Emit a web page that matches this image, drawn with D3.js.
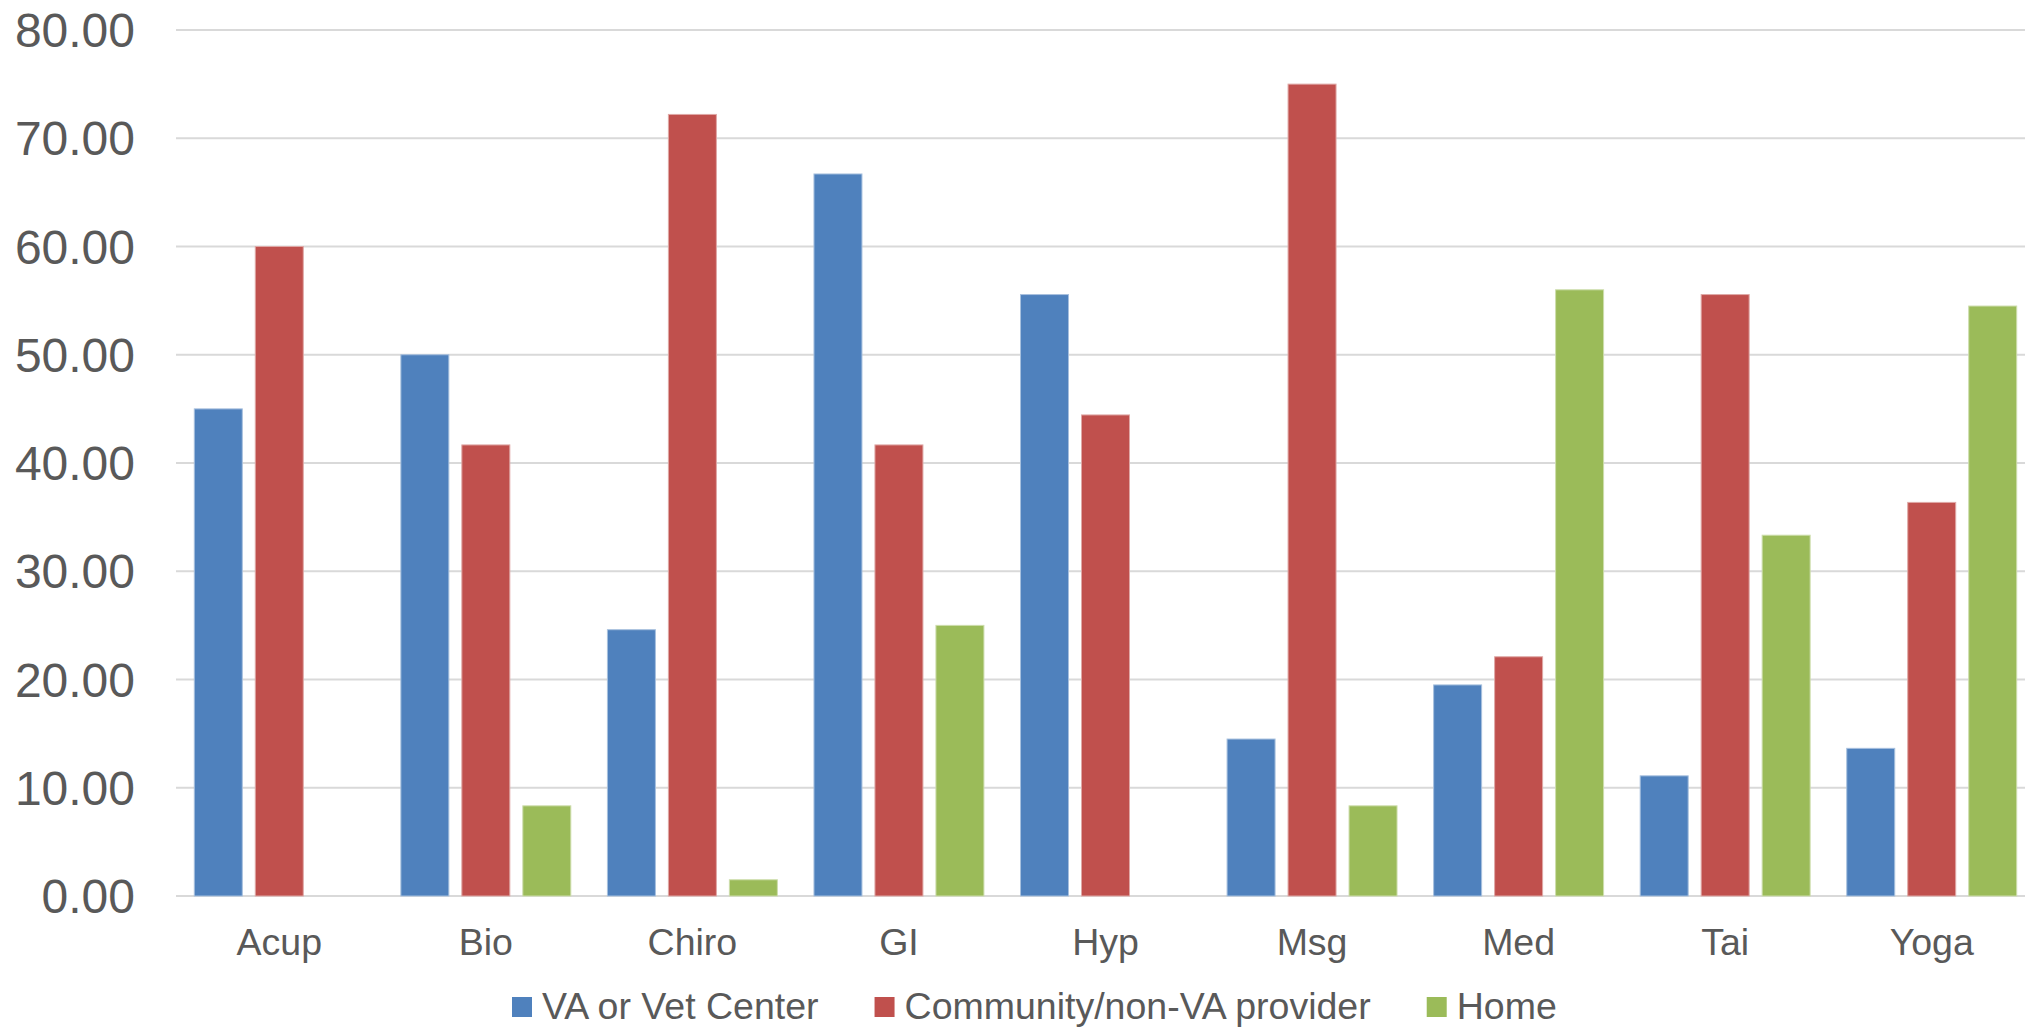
<!DOCTYPE html>
<html>
<head>
<meta charset="utf-8">
<script src="https://cdn.jsdelivr.net/npm/d3@7"></script>
<style>
  html, body { margin: 0; padding: 0; background: #fff; }
  svg { display: block; font-family: "Liberation Sans", Arial, sans-serif; }
</style>
</head>
<body>
<svg id="chart" width="2025" height="1027"></svg>
<script>
const categories = ["Acup", "Bio", "Chiro", "GI", "Hyp", "Msg", "Med", "Tai", "Yoga"];
const seriesNames = ["VA or Vet Center", "Community/non-VA provider", "Home"];
const vaValues = [45.0, 50.0, 24.6, 66.7, 55.56, 14.5, 19.5, 11.1, 13.64];
const communityValues = [60.0, 41.67, 72.2, 41.67, 44.44, 75.0, 22.1, 55.56, 36.36];
const homeValues = [null, 8.33, 1.5, 25.0, null, 8.33, 56.0, 33.33, 54.5];
const yTicks = [0, 10, 20, 30, 40, 50, 60, 70, 80];
const colors = ["#4F81BD", "#C0504D", "#9BBB59"];
const strokes = ["#A7C0DE", "#DFA8A6", "#CDDDAC"];

const seriesValues = [vaValues, communityValues, homeValues];

const svg = d3.select("#chart");
const plotLeft = 176, plotRight = 2035, plotTop = 30, plotBottom = 896;

const x0 = d3.scaleBand().domain(categories).range([plotLeft, plotRight]).paddingInner(0).paddingOuter(0);
const step = x0.step();
const x1 = d3.scaleBand().domain(seriesNames).range([18.3, step - 18.3]).paddingInner(0.213).paddingOuter(0);
const y = d3.scaleLinear().domain([0, 80]).range([plotBottom, plotTop]);

// gridlines
svg.append("g")
  .selectAll("line")
  .data(yTicks)
  .join("line")
  .attr("x1", plotLeft).attr("x2", plotRight)
  .attr("y1", d => y(d)).attr("y2", d => y(d))
  .attr("stroke", "#D9D9D9").attr("stroke-width", 2);

// y tick labels
svg.append("g")
  .selectAll("text")
  .data(yTicks)
  .join("text")
  .attr("x", 135)
  .attr("y", d => y(d))
  .attr("dy", "0.355em")
  .attr("text-anchor", "end")
  .attr("font-size", 48)
  .attr("fill", "#595959")
  .text(d => d3.format(".2f")(d));

// bars
const groups = svg.append("g")
  .selectAll("g")
  .data(categories)
  .join("g")
  .attr("transform", d => `translate(${x0(d)},0)`);

groups.selectAll("rect")
  .data((c, i) => seriesNames.map((s, j) => ({ s, j, v: seriesValues[j][i] })).filter(d => d.v != null))
  .join("rect")
  .attr("x", d => x1(d.s))
  .attr("width", x1.bandwidth())
  .attr("y", d => y(d.v))
  .attr("height", d => y(0) - y(d.v))
  .attr("fill", d => colors[d.j])
  .attr("stroke", d => strokes[d.j])
  .attr("stroke-width", 1);

// x axis labels
svg.append("g")
  .selectAll("text")
  .data(categories)
  .join("text")
  .attr("x", d => x0(d) + step / 2)
  .attr("y", 955)
  .attr("text-anchor", "middle")
  .attr("font-size", 37.5)
  .attr("fill", "#595959")
  .text(d => d);

// legend
const legend = svg.append("g");
let lx = 512;
seriesNames.forEach((name, i) => {
  legend.append("rect")
    .attr("x", lx).attr("y", 997)
    .attr("width", 20).attr("height", 20)
    .attr("fill", colors[i]);
  const t = legend.append("text")
    .attr("x", lx + 30)
    .attr("y", 1019)
    .attr("font-size", 37.5)
    .attr("fill", "#595959")
    .text(name);
  lx = lx + 30 + t.node().getComputedTextLength() + 56;
});
</script>
</body>
</html>
